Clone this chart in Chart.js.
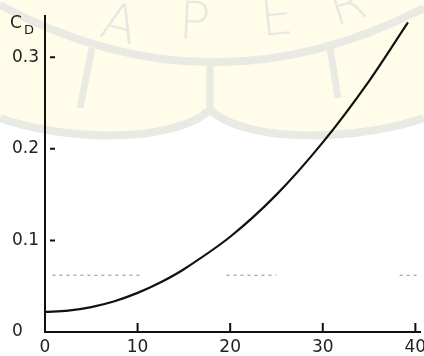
<!DOCTYPE html>
<html lang="es">
<head>
<meta charset="UTF-8">
<title>Coeficiente de resistencia</title>
<script src="https://cdn.jsdelivr.net/npm/chart.js"></script>
<style>
  body { margin: 0; background: #fff; }
  canvas { display: block; }
</style>
</head>
<body>
<canvas id="grafico" width="424" height="356"></canvas>
<script>
// valores
const angulo = [0, 2.5, 5, 7.5, 10, 12.5, 15, 20, 25, 30, 35, 39.2];
const cd = [0.022, 0.0233, 0.0272, 0.0336, 0.0427, 0.0543, 0.0685, 0.104, 0.150, 0.207, 0.274, 0.338];
// linea punteada tenue (artefacto del escaneo) en C_D ~ 0.062
const refX = [0.8, 10.6, null, 19.6, 25, null, 38.3, 40.3];
const refY = [0.062, 0.062, null, 0.062, 0.062, null, 0.062, 0.062];
const ticksX = [0, 10, 20, 30, 40];
const ticksY = [0, 0.1, 0.2, 0.3];

const fuente = { family: "DejaVu Sans", size: 17 };

// fondo con la marca de agua del escaneo
const marcaAgua = {
  id: 'marcaAgua',
  beforeDraw(chart) {
    const c = chart.ctx;
    c.save();
    c.fillStyle = '#fff';
    c.fillRect(0, 0, chart.width, chart.height);
    c.beginPath();
    c.moveTo(0, 0);
    c.lineTo(424, 0);
    c.lineTo(424, 118);
    c.bezierCurveTo(360, 140, 250, 145, 213, 113);
    c.lineTo(207, 113);
    c.bezierCurveTo(170, 145, 60, 140, 0, 118);
    c.closePath();
    c.fillStyle = '#fffde9';
    c.fill();
    c.strokeStyle = '#eaeae4';
    c.lineWidth = 8;
    c.beginPath();
    c.moveTo(0, 118);
    c.bezierCurveTo(60, 140, 170, 145, 210, 110);
    c.bezierCurveTo(250, 145, 360, 140, 424, 118);
    c.stroke();
    c.beginPath();
    c.moveTo(0, 5);
    c.quadraticCurveTo(210, 118, 424, 8);
    c.stroke();
    c.lineWidth = 7;
    c.beginPath();
    c.moveTo(210, 60); c.lineTo(210, 112);
    c.moveTo(92, 48); c.lineTo(80, 108);
    c.moveTo(330, 48); c.lineTo(338, 98);
    c.stroke();
    c.fillStyle = '#e8e8e2';
    c.font = '300 52px "DejaVu Sans"';
    c.textBaseline = 'alphabetic';
    [['A', 98, 36, 0.25], ['P', 178, 38, 0.05], ['E', 262, 36, -0.1], ['R', 335, 26, -0.3]].forEach(([t, x, y, r]) => {
      c.save();
      c.translate(x, y);
      c.rotate(r);
      c.fillText(t, 0, 0);
      c.restore();
    });
    c.restore();
  }
};

// marcas de los ejes hacia adentro y titulo C_D
const marcas = {
  id: 'marcas',
  afterDraw(chart) {
    const c = chart.ctx;
    const x = chart.scales.x, y = chart.scales.y;
    c.save();
    c.strokeStyle = '#111';
    c.lineWidth = 2;
    c.beginPath();
    ticksX.slice(1).forEach(v => {
      const px = x.getPixelForValue(v);
      c.moveTo(px, y.bottom); c.lineTo(px, y.bottom - 9);
    });
    ticksY.slice(1).forEach(v => {
      const py = y.getPixelForValue(v);
      c.moveTo(x.left + 5, py); c.lineTo(x.left + 10, py);
    });
    c.stroke();
    c.fillStyle = '#222';
    c.font = '17px "DejaVu Sans"';
    c.textBaseline = 'alphabetic';
    c.fillText('C', 10, 28);
    c.font = '13px "DejaVu Sans"';
    c.fillText('D', 24, 34);
    c.restore();
  }
};

new Chart(document.getElementById('grafico'), {
  type: 'line',
  data: {
    datasets: [
      {
        data: angulo.map((a, i) => ({ x: a, y: cd[i] })),
        borderColor: '#111',
        borderWidth: 2.2,
        pointRadius: 0,
        tension: 0.3,
        fill: false
      },
      {
        data: refX.map((a, i) => ({ x: a, y: refY[i] })),
        borderColor: '#8a8a8a',
        borderWidth: 1,
        borderDash: [3, 4],
        pointRadius: 0,
        spanGaps: false,
        fill: false
      }
    ]
  },
  options: {
    responsive: false,
    devicePixelRatio: 1,
    animation: false,
    layout: { padding: { top: 16, left: 12, right: 4, bottom: 0 } },
    plugins: { legend: { display: false }, tooltip: { enabled: false } },
    scales: {
      x: {
        type: 'linear',
        min: 0,
        max: 40.5,
        afterFit: s => { s.height = 24; s.paddingLeft = 0; s.paddingRight = 0; },
        afterBuildTicks: s => { s.ticks = ticksX.map(v => ({ value: v })); },
        grid: { display: false, drawTicks: false },
        border: { color: '#111', width: 2 },
        ticks: { color: '#222', font: fuente, padding: 5, maxRotation: 0 }
      },
      y: {
        type: 'linear',
        min: 0,
        max: 0.345,
        afterFit: s => { s.width = 33; s.paddingTop = 0; s.paddingBottom = 0; },
        afterBuildTicks: s => { s.ticks = ticksY.map(v => ({ value: v })); },
        grid: { display: false, drawTicks: false },
        border: { color: '#111', width: 2 },
        ticks: { color: '#222', font: fuente, crossAlign: 'far', padding: 4, callback: v => String(v) }
      }
    }
  },
  plugins: [marcaAgua, marcas]
});
</script>
</body>
</html>
